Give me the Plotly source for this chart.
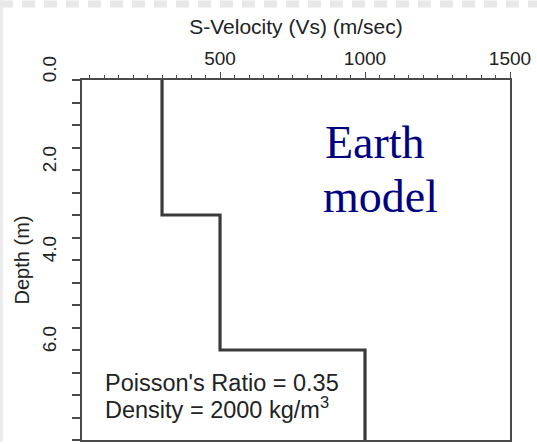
import plotly.graph_objects as go

# Layered earth model (S-wave velocity vs depth)
layer_top_depth = [0.0, 3.0, 6.0]      # m
layer_vs = [300, 500, 1000]            # m/sec
max_depth = 8.0                        # m

x_label_ticks = [500, 1000, 1500]
x_label_text = ["500", "1000", "1500"]
x_mid_ticks = [250, 750, 1250]
y_label_ticks = [0.0, 2.0, 4.0, 6.0]
y_label_text = ["0.0", "2.0", "4.0", "6.0"]

# step profile built from the layers
step_x = layer_vs + [layer_vs[-1]]
step_y = layer_top_depth + [max_depth]

W, H = 537, 444
L, R, T, B = 82, 27, 80, 2
pw, ph = W - L - R, H - T - B

def px_x(p):
    return (p - L) / pw

def px_y(p):
    return 1 - (p - T) / ph

sans = "Liberation Sans, Arial, sans-serif"
serif = "Liberation Serif, Times New Roman, serif"
axis_col = "#4a4a4a"
txt_col = "#222222"
x_range = [24, 1500]

fig = go.Figure()
fig.add_trace(go.Scatter(
    x=step_x, y=step_y, mode="lines", line_shape="vh",
    line=dict(color="#3a3a3a", width=3.2), showlegend=False, hoverinfo="skip"))

fig.update_layout(
    width=W, height=H,
    margin=dict(l=L, r=R, t=T, b=B, pad=0),
    paper_bgcolor="white", plot_bgcolor="white",
    font=dict(family=sans, color=txt_col, size=19),
    xaxis=dict(
        side="top", range=x_range, showgrid=False, zeroline=False,
        showline=True, linecolor=axis_col, linewidth=1.5, mirror=True,
        tickmode="array", tickvals=x_label_ticks, ticktext=x_label_text,
        ticks="outside", ticklen=6, tickwidth=1.2, tickcolor=axis_col,
        tickfont=dict(size=19, family=sans, color=txt_col),
        minor=dict(dtick=50, tick0=0, ticks="outside", ticklen=3,
                   tickwidth=1.2, tickcolor=axis_col, showgrid=False),
        title=dict(text="S-Velocity (Vs) (m/sec)", standoff=7,
                   font=dict(size=21, family=sans, color=txt_col)),
    ),
    xaxis2=dict(
        overlaying="x", side="top", range=x_range, showgrid=False,
        zeroline=False, showline=False, showticklabels=False,
        tickmode="array", tickvals=x_mid_ticks,
        ticks="outside", ticklen=6, tickwidth=1.2, tickcolor=axis_col,
    ),
    yaxis=dict(
        range=[max_depth, 0], showgrid=False, zeroline=False,
        showline=True, linecolor=axis_col, linewidth=1.5, mirror=True,
        tickmode="array", tickvals=y_label_ticks, ticktext=y_label_text,
        ticks="outside", ticklen=8, tickwidth=1.5, tickcolor=axis_col,
        tickangle=-90, ticklabelshift=8, ticklabelstandoff=9,
        tickfont=dict(size=19, family=sans, color=txt_col),
        minor=dict(dtick=0.5, tick0=0, ticks="outside", ticklen=8,
                   tickwidth=1.5, tickcolor=axis_col, showgrid=False),
        title=dict(text="Depth (m)", standoff=4,
                   font=dict(size=20, family=sans, color=txt_col)),
    ),
    shapes=[
        dict(type="rect", xref="paper", yref="paper", layer="below",
             x0=px_x(0), x1=px_x(3), y0=px_y(H), y1=px_y(0),
             fillcolor="#ececec", line=dict(width=0)),
        dict(type="line", xref="paper", yref="paper", layer="below",
             x0=px_x(0), x1=px_x(W), y0=px_y(3.5), y1=px_y(3.5),
             line=dict(color="#e8e8e8", width=7, dash="13px,9px")),
    ],
    annotations=[
        dict(text="Earth", xref="paper", yref="paper",
             x=px_x(375), y=px_y(155), xanchor="center", yanchor="bottom",
             yshift=-15, showarrow=False,
             font=dict(family=serif, size=46, color="#000080")),
        dict(text="model", xref="paper", yref="paper",
             x=px_x(380), y=px_y(210), xanchor="center", yanchor="bottom",
             yshift=-15, showarrow=False,
             font=dict(family=serif, size=46, color="#000080")),
        dict(text="Poisson's Ratio = 0.35", xref="paper", yref="paper",
             x=px_x(103), y=px_y(385), xanchor="left", yanchor="middle",
             showarrow=False, font=dict(size=23.5, family=sans, color=txt_col)),
        dict(text="Density = 2000 kg/m<sup>3</sup>", xref="paper", yref="paper",
             x=px_x(103), y=px_y(410), xanchor="left", yanchor="middle",
             showarrow=False, font=dict(size=23.5, family=sans, color=txt_col)),
    ],
)

fig.write_html("out.html")
